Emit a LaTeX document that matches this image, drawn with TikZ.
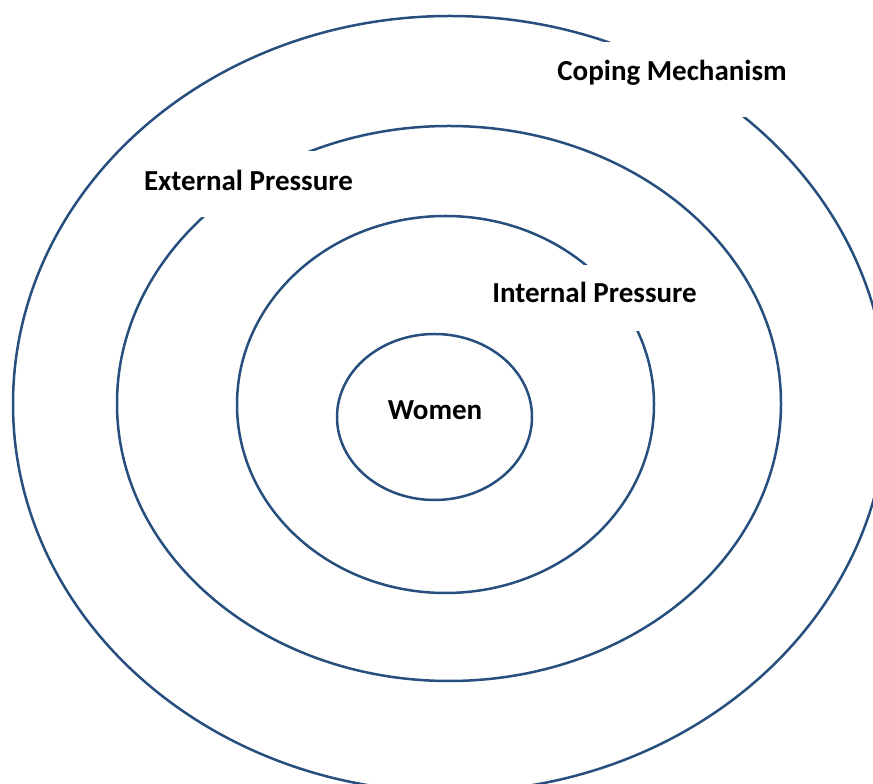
\documentclass[tikz,border=0pt]{standalone}
\usepackage{fontspec}
\setmainfont{Carlito}
\definecolor{ringblue}{HTML}{264F7E}
\begin{document}
\begin{tikzpicture}[x=1pt, y=1pt,
          font=\fontsize{29}{35}\selectfont\bfseries,
          ring/.style={draw=ringblue, line width=2.5pt},
          lbl/.style={fill=white, inner xsep=10pt, inner ysep=0pt, anchor=base}]
        \useasboundingbox (0,0) rectangle (873,784);
        \coordinate (cope) at (450,380);
        \coordinate (ext) at (449,380.5);
        \coordinate (int) at (445.5,379.5);
        \coordinate (core) at (434.5,367);
        \draw[ring] (cope) ellipse [x radius=437, y radius=388];
        \draw[ring] (ext) ellipse [x radius=332, y radius=277.5];
        \draw[ring] (int) ellipse [x radius=208.5, y radius=188.5];
        \draw[ring] (core) ellipse [x radius=97.5, y radius=83];
        \node[lbl, text height=39pt, text depth=36pt] (copelbl) at (672,703) {Coping Mechanism};
        \node[lbl, text height=40pt, text depth=26pt] (extlbl) at (248.5,593.3) {External Pressure};
        \node[lbl, text height=38pt, text depth=28pt] (intlbl) at (594.5,481) {Internal Pressure};
        \node[anchor=base] (women) at (435,364) {Women};
      \end{tikzpicture}
\end{document}
